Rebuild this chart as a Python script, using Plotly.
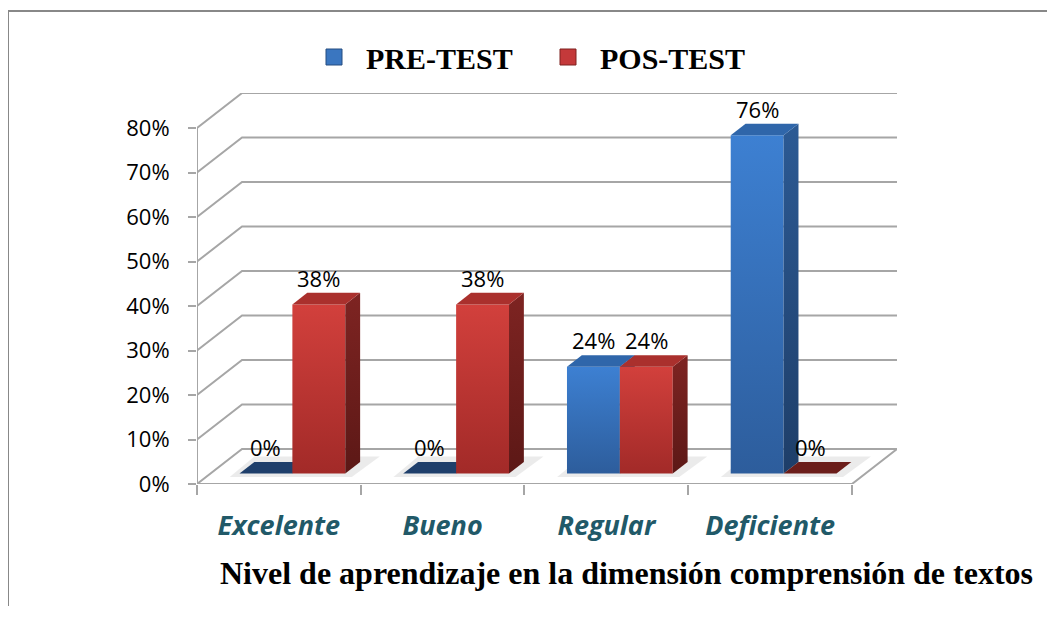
import plotly.graph_objects as go

# ---------------- data ----------------
categories = ["Excelente", "Bueno", "Regular", "Deficiente"]
series_names = ["PRE-TEST", "POS-TEST"]
pre_test = [0, 0, 24, 76]
pos_test = [38, 38, 24, 0]
y_ticks = [0, 10, 20, 30, 40, 50, 60, 70, 80]
y_tick_labels = [f"{v}%" for v in y_ticks]
x_title = "Nivel de aprendizaje en la dimensión comprensión de textos"

# ---------------- style / geometry ----------------
BODY = 8                       # default page margin of the html body
W, H = 1055 - BODY, 618 - BODY
ML, MR, MT, MB = 189, 158, 85, 134
PW, PH = W - ML - MR, H - MT - MB
N = len(categories)
YMAX = 80
DX, DY = 0.275, 7.87          # back-wall offset (data units)
BAR_W = 0.323
D0, D1 = 0.30, 0.63           # bar depth band (fraction of floor depth)
GRID = "#A6A6A6"
NUM_FONT = "Open Sans, Lato, Liberation Sans, sans-serif"
SERIF = "Liberation Serif, Times New Roman, serif"

STYLES = {
    "PRE-TEST": dict(front_top="#3D80D2", front_bot="#2D5D9C", side_top="#2C5A94",
                     side_bot="#1E3E69", top="#2F66AA", flat="#1F3F6B",
                     legend="#3A76C0", legend_line="#244C80"),
    "POS-TEST": dict(front_top="#D2403C", front_bot="#A22A28", side_top="#7E2422",
                     side_bot="#5C1816", top="#AA302D", flat="#6B1D1A",
                     legend="#C4393A", legend_line="#7E2321"),
}

fig = go.Figure()


def poly(xs, ys, color=None, grad=None):
    xs = list(xs) + [xs[0]]
    ys = list(ys) + [ys[0]]
    kw = dict(x=xs, y=ys, mode="lines", fill="toself",
              line=dict(width=0, color="rgba(0,0,0,0)"),
              hoverinfo="skip", showlegend=False)
    if grad is not None:
        kw["fillgradient"] = dict(type="vertical", colorscale=[[0, grad[0]], [1, grad[1]]])
        kw["fillcolor"] = grad[1]
    else:
        kw["fillcolor"] = color
    fig.add_trace(go.Scatter(**kw))


# ---------------- walls / grid ----------------
gx, gy = [], []
for g in y_ticks:
    gx += [0, DX, N + DX, None]
    gy += [g, g + DY, g + DY, None]
gx += [0, 0, None, 0, N, N + DX, None]
gy += [0, YMAX, None, 0, 0, DY, None]
fig.add_trace(go.Scatter(x=gx, y=gy, mode="lines", line=dict(color=GRID, width=2),
                         hoverinfo="skip", showlegend=False))

# ---------------- bars ----------------
sx0, sy0 = D0 * DX, D0 * DY
ddx, ddy = (D1 - D0) * DX, (D1 - D0) * DY

for i in range(N):
    x0 = i + 0.5 - BAR_W + sx0 - 0.04
    x1 = i + 0.5 + BAR_W + sx0 + 0.06
    poly([x0 - 0.02, x1 - 0.02, x1 + ddx + 0.06, x0 + ddx + 0.04],
         [sy0 - 0.8, sy0 - 0.8, sy0 + ddy + 1.2, sy0 + ddy + 1.2],
         color="rgba(0,0,0,0.08)")

labels = []
for i in range(N):
    for k, (name, vals) in enumerate(zip(series_names, [pre_test, pos_test])):
        st = STYLES[name]
        v = vals[i]
        x0 = i + 0.5 - BAR_W + k * BAR_W + sx0
        x1 = x0 + BAR_W
        yb = sy0
        yt = yb + v
        if v > 0:
            poly([x0, x1, x1, x0], [yb, yb, yt, yt], grad=(st["front_bot"], st["front_top"]))
            poly([x1, x1 + ddx, x1 + ddx, x1], [yb, yb + ddy, yt + ddy, yt],
                 grad=(st["side_bot"], st["side_top"]))
            poly([x0, x1, x1 + ddx, x0 + ddx], [yt, yt, yt + ddy, yt + ddy], color=st["top"])
        else:
            poly([x0, x1, x1 + ddx, x0 + ddx], [yt, yt, yt + ddy, yt + ddy], color=st["flat"])
        labels.append(dict(x=(x0 + x1) / 2, y=yt + ddy, text=f"{v}%"))

for lb in labels:
    fig.add_annotation(x=lb["x"], y=lb["y"], text=lb["text"], showarrow=False,
                       xref="x", yref="y", yanchor="bottom", yshift=-2,
                       font=dict(family=NUM_FONT, size=22, color="#000000"))

# ---------------- legend entries ----------------
for name in series_names:
    st = STYLES[name]
    fig.add_trace(go.Scatter(x=[None], y=[None], mode="markers", name=name,
                             marker=dict(symbol="square", size=16, color=st["legend"],
                                         line=dict(color=st["legend_line"], width=1))))


# page-pixel -> paper helpers
def px_x(p):
    return (p - BODY - ML) / PW


def px_y(p):
    return (H - MB - (p - BODY)) / PH


# ---------------- x title ----------------
fig.add_annotation(x=px_x(626), y=px_y(573), xref="paper", yref="paper",
                   text=x_title, showarrow=False, xanchor="center", yanchor="middle",
                   font=dict(family=SERIF, size=32, color="#000000", weight="bold"))

# ---------------- frame ----------------
fig.add_shape(type="line", xref="paper", yref="paper", x0=px_x(8), x1=px_x(1070),
              y0=px_y(11), y1=px_y(11), line=dict(color="#888888", width=2))
fig.add_shape(type="line", xref="paper", yref="paper", x0=px_x(8), x1=px_x(8),
              y0=px_y(11), y1=px_y(606), line=dict(color="#888888", width=2))

fig.update_layout(
    width=W, height=H,
    margin=dict(l=ML, r=MR, t=MT, b=MB, pad=0),
    paper_bgcolor="white", plot_bgcolor="white",
    showlegend=True,
    legend=dict(orientation="h", x=px_x(302), y=px_y(57), xanchor="left", yanchor="middle",
                itemwidth=54, entrywidth=165, entrywidthmode="pixels",
                font=dict(family=SERIF, size=30, color="#000000", weight="bold"),
                bgcolor="rgba(0,0,0,0)", itemclick=False),
    xaxis=dict(range=[0, N + DX], tickmode="array",
               tickvals=[i + 0.5 for i in range(N)], ticktext=categories,
               ticks="", showgrid=False, zeroline=False, showline=False,
               ticklabelstandoff=23,
               tickfont=dict(family=NUM_FONT, size=27, color="#215968",
                             weight="bold", style="italic"),
               minor=dict(tickmode="array", tickvals=list(range(N + 1)), ticks="outside",
                          ticklen=10, tickwidth=2, tickcolor=GRID, showgrid=False),
               fixedrange=True),
    yaxis=dict(range=[0, YMAX + DY], tickmode="array", tickvals=y_ticks,
               ticktext=y_tick_labels, ticks="outside", ticklen=8, tickwidth=2,
               tickcolor=GRID, showgrid=False, zeroline=False, showline=False,
               ticklabelstandoff=14,
               tickfont=dict(family=NUM_FONT, size=22, color="#000000"),
               fixedrange=True),
)

fig.write_html("out.html")
